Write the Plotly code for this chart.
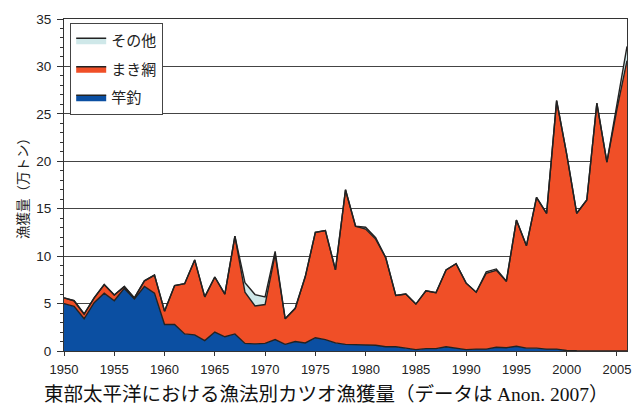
import plotly.graph_objects as go

# 東部太平洋 カツオ漁獲量 (万トン), 1950-2006
years = list(range(1950, 2007))

pole_line = [  # 竿釣
    5.0, 4.7, 3.4, 5.1, 6.1, 5.3, 6.6, 5.5, 6.8, 6.1,
    2.8, 2.8, 1.8, 1.7, 1.1, 2.0, 1.5, 1.8, 0.8, 0.75,
    0.8, 1.2, 0.7, 1.0, 0.85, 1.4, 1.2, 0.85, 0.7, 0.65,
    0.65, 0.6, 0.45, 0.45, 0.3, 0.15, 0.25, 0.25, 0.45, 0.3,
    0.15, 0.2, 0.2, 0.4, 0.35, 0.5, 0.3, 0.3, 0.2, 0.2,
    0.05, 0.02, 0.02, 0.02, 0.02, 0.01, 0.01,
]

purse_seine = [  # まき網
    0.6, 0.6, 0.5, 0.5, 0.9, 0.6, 0.2, 0.1, 0.6, 1.9,
    1.4, 4.1, 5.3, 7.9, 4.6, 5.8, 4.5, 10.3, 5.4, 4.0,
    4.1, 9.0, 2.7, 3.5, 7.0, 11.1, 11.5, 7.7, 16.3, 12.5,
    12.2, 11.2, 9.4, 5.4, 5.7, 4.8, 6.1, 5.9, 8.1, 8.9,
    7.0, 6.0, 8.0, 8.1, 7.0, 13.3, 10.8, 15.9, 14.3, 26.2,
    20.7, 14.5, 15.9, 26.1, 19.9, 25.5, 30.6,
]

others = [  # その他
    0, 0, 0, 0, 0, 0, 0, 0, 0, 0,
    0, 0, 0, 0, 0, 0, 0, 0, 1.0, 1.2,
    0.8, 0.3, 0, 0, 0, 0, 0, 0, 0, 0,
    0.2, 0.15, 0, 0, 0, 0, 0, 0, 0, 0,
    0, 0, 0.15, 0.15, 0, 0, 0, 0, 0, 0,
    0, 0, 0, 0, 0, 0.6, 1.5,
]

# stacking order bottom -> top; legend shows top layer first
series = [
    ("竿釣", pole_line, "#0b4fa2", 3),
    ("まき網", purse_seine, "#f04f27", 2),
    ("その他", others, "#cfe8e9", 1),
]

fig = go.Figure()
for name, vals, color, rank in series:
    fig.add_trace(go.Scatter(
        x=years, y=vals, name=name, legendgroup=name, legendrank=rank,
        mode="lines", stackgroup="one",
        line=dict(color="#222222", width=1.4),
        fillcolor=color,
    ))

fig.update_layout(
    width=643, height=407,
    margin=dict(l=64, r=14, t=12, b=56),
    plot_bgcolor="white", paper_bgcolor="white",
    font=dict(family="Liberation Sans, Noto Sans CJK JP", size=13, color="#222"),
    showlegend=True,
    legend=dict(
        x=0.011, y=0.988, xanchor="left", yanchor="top",
        traceorder="grouped", tracegroupgap=6, itemwidth=30,
        entrywidth=80, entrywidthmode="pixels",
        bordercolor="#444", borderwidth=1, bgcolor="white",
        font=dict(family="Noto Sans CJK JP", size=15, color="#222"),
    ),
    xaxis=dict(
        range=[1950, 2006], dtick=5, tick0=1950,
        showgrid=False, zeroline=False,
        showline=True, linecolor="#333", linewidth=1, mirror=True,
        ticks="outside", ticklen=4, tickcolor="#333",
        ticklabelstandoff=2,
        tickfont=dict(size=13),
    ),
    yaxis=dict(
        range=[0, 35], dtick=5, tick0=0,
        showgrid=True, gridcolor="#444", gridwidth=1, zeroline=False,
        showline=True, linecolor="#333", linewidth=1, mirror=True,
        ticks="outside", ticklen=6, tickcolor="#333",
        ticklabelstandoff=3,
        minor=dict(dtick=1, ticks="outside", ticklen=3, tickcolor="#333", showgrid=False),
        tickfont=dict(size=13.5),
        title=dict(text="漁獲量（万トン）", standoff=4,
                   font=dict(family="Noto Sans CJK JP", size=13.5)),
    ),
)

fig.add_annotation(
    xref="paper", yref="paper", x=0.465, y=-0.126,
    xanchor="center", yanchor="middle", showarrow=False,
    text="東部太平洋における漁法別カツオ漁獲量（データは "
         "<span style='font-family:Liberation Serif'>Anon. 2007</span>）",
    font=dict(family="Noto Sans CJK JP", size=19.5, color="#111"),
)

fig.write_html(
    "out.html",
    config={"displayModeBar": False},
    post_script="document.body.style.margin='0';",
)
